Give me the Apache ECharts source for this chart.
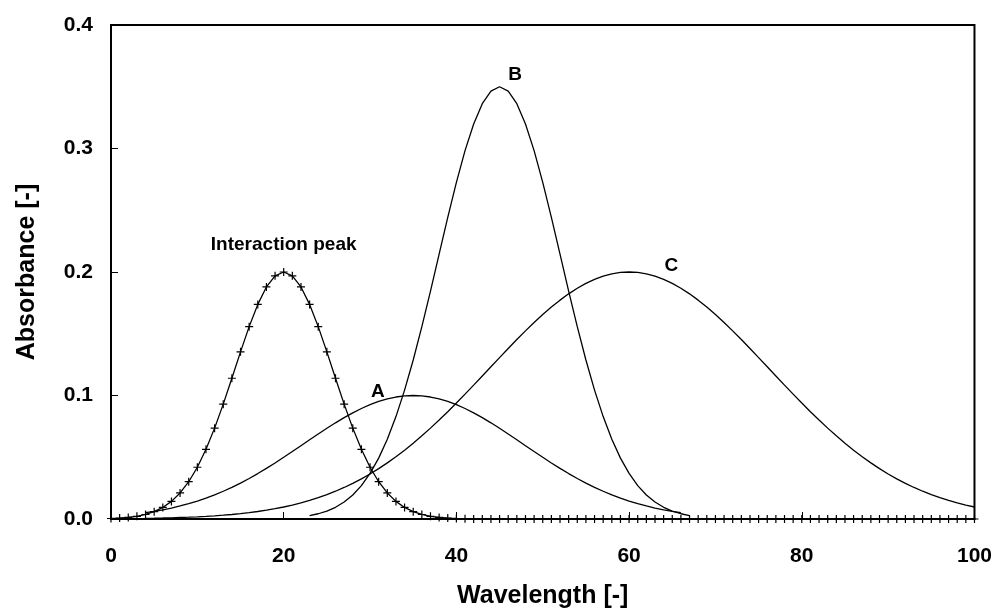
<!DOCTYPE html>
<html>
<head>
<meta charset="utf-8">
<script src="https://cdn.jsdelivr.net/npm/echarts@6/dist/echarts.min.js"></script>
<style>html,body{margin:0;padding:0;background:#fff;}#c{width:995px;height:614px;}</style>
</head>
<body>
<div id="c"></div>
<script>
// Interaction peak (markers at every integer wavelength, starting at x = 0)
const ipStart = 0;
const ipValues = [0.00039,0.00071,0.00127,0.00219,0.00366,0.00595,0.00935,0.01426,0.02108,0.03019,
  0.04192,0.05641,0.07358,0.09301,0.11396,0.13533,0.15576,0.17376,0.18788,0.19690,
  0.2,0.19690,0.18788,0.17376,0.15576,0.13533,0.11396,0.09301,0.07358,0.05641,
  0.04192,0.03019,0.02108,0.01426,0.00935,0.00595,0.00366,0.00219,0.00127,0.00071,
  0.00039,0.0002,0.0001,0,0,0,0,0,0,0,
  0,0,0,0,0,0,0,0,0,0,
  0,0,0,0,0,0,0,0,0,0,
  0,0,0,0,0,0,0,0,0,0,
  0,0,0,0,0,0,0,0,0,0,
  0,0,0,0,0,0,0,0,0,0,0];
// Curve A, starts at x = 4
const aStart = 4;
const aValues = [0.00515,0.00622,0.00746,0.00889,0.01054,0.01241,0.01453,0.01690,0.01954,0.02245,
  0.02564,0.02910,0.03282,0.03679,0.04098,0.04538,0.04994,0.05461,0.05936,0.06412,
  0.06883,0.07344,0.07788,0.08208,0.08596,0.08948,0.09257,0.09518,0.09726,0.09877,
  0.09969,0.1,0.09969,0.09877,0.09726,0.09518,0.09257,0.08948,0.08596,0.08208,
  0.07788,0.07344,0.06883,0.06412,0.05936,0.05461,0.04994,0.04538,0.04098,0.03679,
  0.03282,0.02910,0.02564,0.02245,0.01954,0.01690,0.01453,0.01241,0.01054,0.00889,
  0.00746,0.00622,0.00515];
// Curve B, starts at x = 23
const bStart = 23;
const bValues = [0.00277,0.00425,0.00641,0.00947,0.01371,0.01945,0.02706,0.03689,0.04930,0.06458,
  0.08292,0.10437,0.12876,0.15570,0.18455,0.21442,0.24419,0.27258,0.29825,0.31988,
  0.33628,0.34652,0.35,0.34652,0.33628,0.31988,0.29825,0.27258,0.24419,0.21442,
  0.18455,0.15570,0.12876,0.10437,0.08292,0.06458,0.04930,0.03689,0.02706,0.01945,
  0.01371,0.00947,0.00641,0.00425,0.00277];
// Curve C, starts at x = 4
const cStart = 4;
const cValues = [0.00053,0.00066,0.00081,0.00099,0.00121,0.00146,0.00177,0.00214,0.00257,0.00307,
  0.00366,0.00435,0.00515,0.00607,0.00713,0.00834,0.00972,0.01128,0.01305,0.01503,
  0.01726,0.01974,0.02249,0.02553,0.02886,0.03251,0.03648,0.04079,0.04543,0.05041,
  0.05573,0.06137,0.06733,0.07358,0.08011,0.08690,0.09390,0.10108,0.10840,0.11582,
  0.12327,0.13071,0.13808,0.14531,0.15235,0.15912,0.16556,0.17161,0.17721,0.18231,
  0.18684,0.19077,0.19404,0.19663,0.19849,0.19962,0.2,0.19962,0.19849,0.19663,
  0.19404,0.19077,0.18684,0.18231,0.17721,0.17161,0.16556,0.15912,0.15235,0.14531,
  0.13808,0.13071,0.12327,0.11582,0.10840,0.10108,0.09390,0.08690,0.08011,0.07358,
  0.06733,0.06137,0.05573,0.05041,0.04543,0.04079,0.03648,0.03251,0.02886,0.02553,
  0.02249,0.01974,0.01726,0.01503,0.01305,0.01128,0.00972];
// Annotation labels
const labelNames = ['Interaction peak', 'A', 'B', 'C'];
const labelX = [20, 30.9, 46.8, 64.9];
const labelY = [0.222, 0.103, 0.360, 0.205];

const xTitle = 'Wavelength [-]';
const yTitle = 'Absorbance [-]';

function pairs(start, vals) { return vals.map((v, i) => [start + i, v]); }

const FONT = '"Liberation Sans", Arial, sans-serif';
const chart = echarts.init(document.getElementById('c'), null, {renderer: 'canvas'});
const lineBase = {type: 'line', symbol: 'none', lineStyle: {color: '#000', width: 1.3}, itemStyle: {color: '#000'}, silent: true, animation: false, z: 3};

chart.setOption({
  animation: false,
  backgroundColor: '#fff',
  grid: {left: 111, right: 20, top: 25, bottom: 88, show: true, borderColor: '#000', borderWidth: 2, backgroundColor: 'transparent'},
  xAxis: {
    type: 'value', min: 0, max: 100, interval: 20,
    name: xTitle, nameLocation: 'middle', nameGap: 65,
    nameTextStyle: {fontFamily: FONT, fontWeight: 'bold', fontSize: 25, color: '#000'},
    axisLine: {show: true, lineStyle: {color: '#000', width: 2}},
    axisTick: {show: true, inside: true, length: 7, lineStyle: {color: '#000', width: 1}},
    axisLabel: {fontFamily: FONT, fontWeight: 'bold', fontSize: 21, color: '#000', margin: 27},
    splitLine: {show: false}
  },
  yAxis: {
    type: 'value', min: 0, max: 0.4, interval: 0.1,
    name: yTitle, nameLocation: 'middle', nameGap: 71,
    nameTextStyle: {fontFamily: FONT, fontWeight: 'bold', fontSize: 25, color: '#000'},
    axisLine: {show: true, lineStyle: {color: '#000', width: 2}},
    axisTick: {show: true, inside: true, length: 7, lineStyle: {color: '#000', width: 1}},
    axisLabel: {fontFamily: FONT, fontWeight: 'bold', fontSize: 21, color: '#000', margin: 18,
      formatter: v => v.toFixed(1)},
    splitLine: {show: false}
  },
  series: [
    Object.assign({}, lineBase, {name: 'C', data: pairs(cStart, cValues)}),
    Object.assign({}, lineBase, {name: 'A', data: pairs(aStart, aValues)}),
    Object.assign({}, lineBase, {name: 'B', data: pairs(bStart, bValues)}),
    Object.assign({}, lineBase, {
      name: 'Interaction peak', data: pairs(ipStart, ipValues),
      symbol: 'path://M0,-5L0,5M-5,0L5,0', symbolSize: 8, showAllSymbol: true,
      itemStyle: {color: 'none', borderColor: '#000', borderWidth: 1.2}
    }),
    {
      type: 'scatter', symbolSize: 0, silent: true, z: 5,
      itemStyle: {opacity: 1, color: '#000'},
      data: labelNames.map((n, i) => ({name: n, value: [labelX[i], labelY[i]]})),
      label: {show: true, position: 'inside', formatter: p => p.name, opacity: 1,
        fontFamily: FONT, fontWeight: 'bold', fontSize: 19, color: '#000',
        textBorderWidth: 0}
    }
  ]
});
</script>
</body>
</html>
